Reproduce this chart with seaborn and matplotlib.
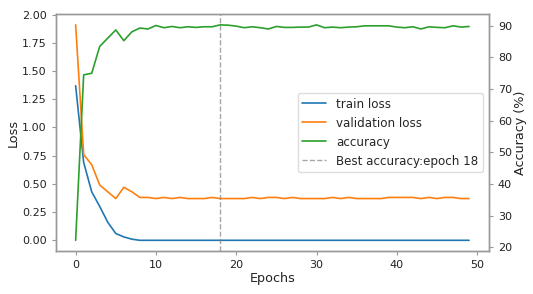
import numpy as np
import pandas as pd
import seaborn as sns
import matplotlib.pyplot as plt

# values
epochs = list(range(50))
train_loss = [1.37, 0.69, 0.43, 0.30, 0.16, 0.06, 0.03, 0.01] + [0.0] * 42
val_loss = [1.91, 0.76, 0.67, 0.49, 0.43, 0.37, 0.47, 0.43, 0.38, 0.38,
            0.37, 0.38, 0.37, 0.38, 0.37, 0.37, 0.37, 0.38, 0.37, 0.37,
            0.37, 0.37, 0.38, 0.37, 0.38, 0.38, 0.37, 0.38, 0.37, 0.37,
            0.37, 0.37, 0.38, 0.37, 0.38, 0.37, 0.37, 0.37, 0.37, 0.38,
            0.38, 0.38, 0.38, 0.37, 0.38, 0.37, 0.38, 0.38, 0.37, 0.37]
accuracy = [22.2, 74.5, 75.0, 83.5, 86.1, 88.7, 85.3, 88.1, 89.3, 89.0,
            90.1, 89.4, 89.8, 89.4, 89.7, 89.5, 89.7, 89.7, 90.3, 90.2,
            89.9, 89.4, 89.7, 89.4, 89.0, 89.8, 89.5, 89.5, 89.6, 89.6,
            90.3, 89.4, 89.6, 89.4, 89.6, 89.7, 90.0, 90.0, 90.0, 90.0,
            89.6, 89.4, 89.7, 89.0, 89.7, 89.5, 89.4, 90.0, 89.6, 89.8]
best_epoch = 18

df = pd.DataFrame({'epoch': epochs, 'train': train_loss,
                   'val': val_loss, 'acc': accuracy})

sns.set_style('white')
plt.rcParams['font.family'] = ['DejaVu Sans']

fig = plt.figure(figsize=(5.33, 2.94), dpi=100)
ax = fig.add_axes([0.105, 0.146, 0.812, 0.806])
ax2 = ax.twinx()

sns.lineplot(data=df, x='epoch', y='train', ax=ax, color='#1f77b4', lw=1.2, label='train loss', legend=False)
sns.lineplot(data=df, x='epoch', y='val', ax=ax, color='#ff7f0e', lw=1.2, label='validation loss', legend=False)
sns.lineplot(data=df, x='epoch', y='acc', ax=ax2, color='#2ca02c', lw=1.2, label='accuracy', legend=False)
ax2.axvline(best_epoch, color='gray', ls='--', lw=1.0, alpha=0.7, label=f'Best accuracy:epoch {best_epoch}')

ax.set_yticks([0, 0.25, 0.5, 0.75, 1.0, 1.25, 1.5, 1.75, 2.0])
ax.set_yticklabels([f'{v:.2f}' for v in ax.get_yticks()])
ax.set_ylim(-0.0955, 2.005)
ax2.set_ylim(18.8, 93.7)
ax.set_xlim(-2.45, 51.45)
ax.set_xticks([0, 10, 20, 30, 40, 50])

ax.set_xlabel('Epochs', fontsize=9.2, color='#222222', labelpad=1.5)
ax.set_ylabel('Loss', fontsize=9.2, color='#222222', labelpad=1.5)
ax2.set_ylabel('Accuracy (%)', fontsize=9.2, color='#222222', labelpad=1.5)

for a in (ax, ax2):
    a.tick_params(labelsize=8, colors='#222222', length=3, width=0.8, left=False, right=False, bottom=True)
    for s in a.spines.values():
        s.set_color('#999999')
        s.set_linewidth(1.0)
ax.tick_params(axis='y', left=True)
ax2.tick_params(axis='y', right=True)
ax.tick_params(axis='both', color='#999999')
ax2.tick_params(axis='both', color='#999999')

h1, l1 = ax.get_legend_handles_labels()
h2, l2 = ax2.get_legend_handles_labels()
ax2.legend(h1 + h2, l1 + l2, loc='center right', fontsize=8.6, frameon=True,
           edgecolor='#dddddd', framealpha=1.0)

fig.savefig('out.png', dpi=100)
